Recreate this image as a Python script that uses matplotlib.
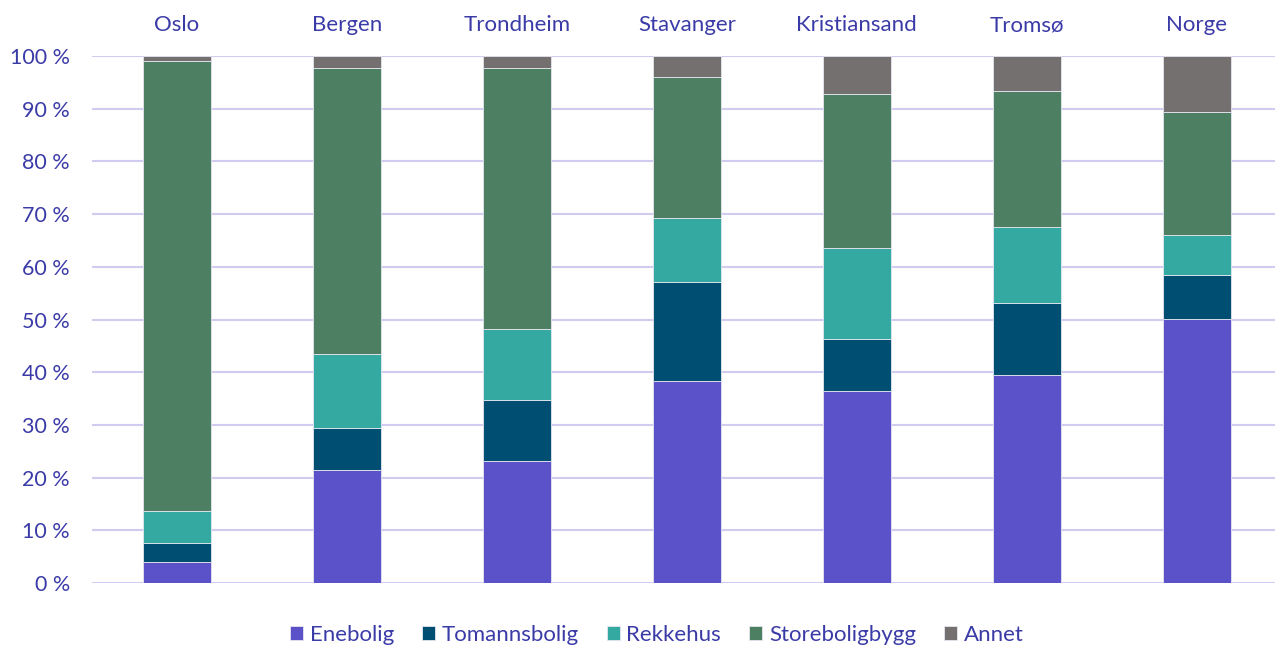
import matplotlib
matplotlib.use("Agg")
import matplotlib.pyplot as plt
import numpy as np

# andel boliger etter bygningstype (prosent)
byer = ["Oslo", "Bergen", "Trondheim", "Stavanger", "Kristiansand", "Tromsø", "Norge"]
enebolig = [4.0, 21.4, 23.1, 38.3, 36.4, 39.5, 50.1]
tomannsbolig = [3.6, 8.0, 11.6, 18.8, 9.9, 13.6, 8.3]
rekkehus = [6.1, 14.1, 13.5, 12.2, 17.3, 14.5, 7.6]
storeboligbygg = [85.3, 54.2, 49.5, 26.7, 29.2, 25.8, 23.4]
annet = [1.0, 2.3, 2.3, 4.0, 7.2, 6.6, 10.6]

serier = ["Enebolig", "Tomannsbolig", "Rekkehus", "Storeboligbygg", "Annet"]
farger = ["#5B51C9", "#004F73", "#33A9A1", "#4D7F62", "#757070"]
tekstfarge = "#3B3BA8"

plt.rcParams["font.family"] = ["Lato", "DejaVu Sans"]

fig = plt.figure(figsize=(12.75, 6.47), dpi=100)
ax = fig.add_axes([92 / 1275, 64 / 647, 1 - 92 / 1275, 527 / 647])

x = np.arange(len(byer))
bunn = np.zeros(len(byer))
for navn, verdier, farge in zip(serier, [enebolig, tomannsbolig, rekkehus, storeboligbygg, annet], farger):
    ax.bar(x, verdier, 0.4, bottom=bunn, color=farge, label=navn,
           edgecolor="#E6E6F0", linewidth=0.6, zorder=3)
    bunn += np.array(verdier)

ax.set_ylim(0, 100)
ax.set_xlim(-0.5, 6.46)
ax.set_yticks(range(0, 101, 10))
ax.set_yticklabels([f"{v} %" for v in range(0, 101, 10)])
ax.yaxis.grid(True, color="#D0CCF0", linewidth=1.5, zorder=0)
ax.set_axisbelow(True)
for s in ax.spines.values():
    s.set_visible(False)
ax.xaxis.tick_top()
ax.set_xticks(x)
ax.set_xticklabels(byer)
ax.tick_params(axis="both", length=0, labelcolor=tekstfarge)
ax.tick_params(axis="x", pad=15, labelsize=16)
ax.tick_params(axis="y", pad=16, labelsize=15.5)

leg = fig.legend(loc="center", bbox_to_anchor=(0.515, 12 / 647), ncol=5, frameon=False,
                 fontsize=16, handlelength=0.6, handleheight=0.6, handletextpad=0.3,
                 columnspacing=1.25)
for t in leg.get_texts():
    t.set_color(tekstfarge)

fig.savefig("out.png", dpi=100)
